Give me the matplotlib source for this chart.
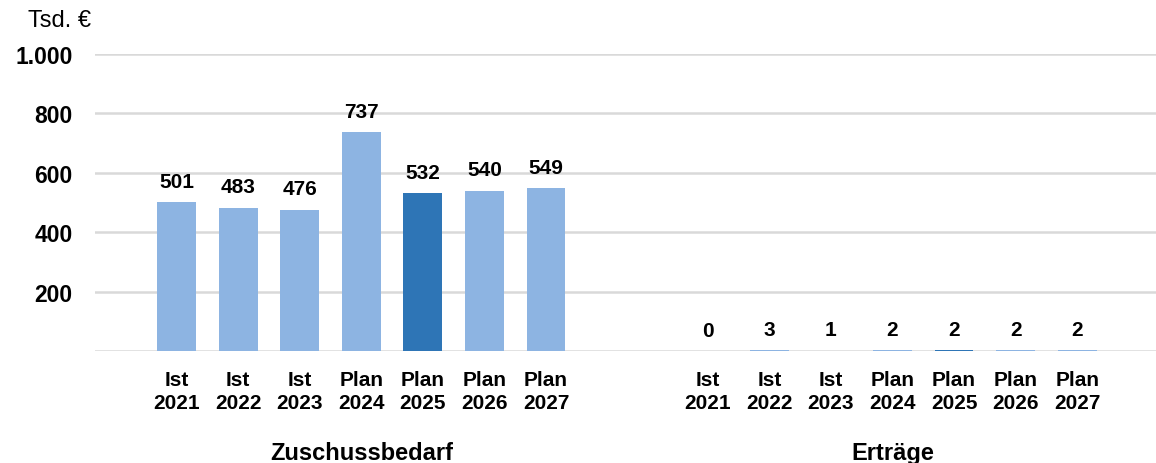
import numpy as np
import matplotlib
matplotlib.use("Agg")
import matplotlib.pyplot as plt
from matplotlib.ticker import FuncFormatter
from matplotlib.transforms import blended_transform_factory

# Daten (Tsd. €)
years = ["Ist\n2021", "Ist\n2022", "Ist\n2023", "Plan\n2024", "Plan\n2025", "Plan\n2026", "Plan\n2027"]
groups = ["Zuschussbedarf", "Erträge"]
zuschuss = [501, 483, 476, 737, 532, 540, 549]
ertraege = [0, 3, 1, 2, 2, 2, 2]
highlight = 4  # Plan 2025

light = "#8DB4E2"
dark = "#2E75B6"
grid = "#D9D9D9"

plt.rcParams["font.family"] = ["Liberation Sans", "DejaVu Sans"]

fig = plt.figure(figsize=(11.56, 4.64), dpi=100)
ax = fig.add_axes([0.0822, 0.2414, 0.9178, 0.6401])

gap = 8.63
x1 = np.arange(len(zuschuss))
x2 = x1 + gap
series = [zuschuss, ertraege]
positions = [x1, x2]

for xs, vals in zip(positions, series):
    cols = [dark if i == highlight else light for i in range(len(vals))]
    ax.bar(xs, vals, width=0.63, color=cols, zorder=3)
    for x, v in zip(xs, vals):
        ax.annotate(str(v), (x, v), xytext=(0, 11), textcoords="offset points",
                    ha="center", va="baseline", fontsize=15, fontweight="bold")

ax.set_ylim(0, 1000)
ax.set_xlim(-1.325, gap + 6 + 1.28)
ax.set_yticks(np.arange(0, 1001, 200))
ax.yaxis.set_major_formatter(FuncFormatter(
    lambda v, p: "" if v == 0 else f"{int(v):,}".replace(",", ".")))
ax.grid(axis="y", color=grid, linewidth=1.8, zorder=0)
ax.tick_params(axis="y", length=0, pad=16, labelsize=16.5)
for lab in ax.get_yticklabels():
    lab.set_fontweight("bold")

allx = np.concatenate(positions)
ax.set_xticks(allx)
ax.set_xticklabels(years * 2, fontsize=15, fontweight="bold", linespacing=1.25)
ax.tick_params(axis="x", length=0, pad=14)

for s in ax.spines.values():
    s.set_visible(False)

trans = blended_transform_factory(ax.transData, fig.transFigure)
for xs, name in zip(positions, groups):
    ax.text(xs.mean(), 0.0086, name, transform=trans,
            ha="center", va="baseline", fontsize=17, fontweight="bold")

fig.text(0.0242, 0.9547, "Tsd. €", fontsize=17, ha="left", va="center")

fig.savefig("out.png", dpi=100)
